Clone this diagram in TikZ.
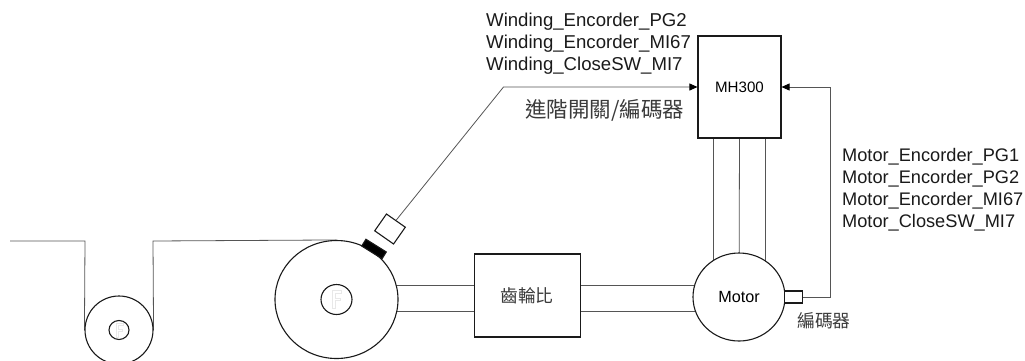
\documentclass[tikz,border=0pt]{standalone}
\usepackage{xcolor}
\usepackage{fontspec}
\setmainfont{Liberation Sans}
\newfontfamily\cjkfont{Noto Sans CJK TC}
\usetikzlibrary{positioning,arrows.meta,shapes.geometric,backgrounds}
\definecolor{ink}{HTML}{1a1a1a}
\definecolor{wire}{HTML}{555555}
\definecolor{faint}{HTML}{e8e8e8}
\definecolor{cjkink}{HTML}{3a3a3a}

\begin{document}
\begin{tikzpicture}[
  x=1pt,y=-1pt,
  font=\fontsize{18.2}{22}\selectfont,
  pulley/.style={ellipse,draw=ink,line width=1.1pt,fill=white,inner sep=0pt},
  unitbox/.style={draw=ink,line width=1.1pt,fill=white,inner sep=0pt,align=center},
  wire/.style={draw=wire,line width=0.8pt},
  arr/.style={wire,-{Triangle[length=8pt,width=7pt,color=black]}},
  lbl/.style={anchor=west,align=left,inner sep=0pt,text=ink},
  hubmark/.style={draw=faint,line width=0.5pt}]
  \useasboundingbox (0,0) rectangle (1025,360);

  % drums and boxes
  \node[pulley,minimum width=68pt,minimum height=68pt] (idler) at (119,330) {};
  \node[pulley,minimum width=20pt,minimum height=19pt] (idlerhub) at (119,330) {};
  \node[pulley,minimum width=123pt,minimum height=118pt] (drum) at (336.5,299.5) {};
  \node[pulley,minimum width=31pt,minimum height=30pt] (drumhub) at (336.5,299.5) {};
  \node[unitbox,minimum width=106pt,minimum height=83pt,text=cjkink,font=\cjkfont\fontsize{17.7}{18}\selectfont,right=75pt of drum,yshift=4pt] (gear) {齒輪比};
  \node[pulley,minimum width=92pt,minimum height=88pt,font=\fontsize{16.2}{16}\selectfont] (motor) at (739,297) {Motor};
  \node[unitbox,minimum width=83pt,minimum height=102pt,font=\fontsize{15.1}{15}\selectfont] (mh) at (739.5,87) {MH300};
  \node[unitbox,minimum width=18pt,minimum height=12pt,right=-1.5pt of motor] (motorenc) {};
  \node[unitbox,minimum width=24pt,minimum height=8pt,fill=black,rotate=-32] (pad) at (374,249) {};
  \node[unitbox,minimum width=23pt,minimum height=20.5pt,rotate=-35] (sensor) at (390,229) {};

  % texts
  \node[lbl,font=\fontsize{18.6}{22}\selectfont] (windinglbl) at (486,44) {Winding\_Encorder\_PG2\\Winding\_Encorder\_MI67\\Winding\_CloseSW\_MI7};
  \node[lbl,text=cjkink,font=\cjkfont\fontsize{21.5}{22}\selectfont] (windingname) at (525,110) {進階開關/編碼器};
  \node[lbl] (motorlbl) at (842,190) {Motor\_Encorder\_PG1\\Motor\_Encorder\_PG2\\Motor\_Encorder\_MI67\\Motor\_CloseSW\_MI7};
  \node[lbl,text=cjkink,font=\cjkfont\fontsize{17.8}{20}\selectfont] (motorname) at (797,321) {編碼器};

  \foreach \hub/\size in {idlerhub/0.8,drumhub/1}
    \draw[hubmark,shift={(\hub.center)},scale=\size] (-4,-9) -- (5,-9) -- (5,-6.5) -- (-1.5,-6.5) -- (-1.5,-1.5) -- (3.5,-1.5) -- (3.5,1) -- (-1.5,1) -- (-1.5,9) -- (-4,9) -- cycle;

  \coordinate (bend) at (503.5,87);
  \coordinate (corner) at (830,87);
  \coordinate (shaftA) at ([yshift=10pt]gear.west);
  \coordinate (shaftB) at ([yshift=-16pt]gear.west);
  \coordinate (shaftC) at ([yshift=10pt]gear.east);
  \coordinate (shaftD) at ([yshift=-16pt]gear.east);
  \coordinate (belt) at (85,241);
  \coordinate (beltstart) at (10,241);
  \coordinate (beltup) at (153,241);

  \begin{scope}[on background layer]
    \draw[wire] (beltstart) -- (belt) -- (idler.west);
    \draw[wire] (idler.east) -- (beltup) -- (drum.north);
    \draw[wire] (shaftA) -- (shaftA -| drum.center);
    \draw[wire] (shaftB) -- (shaftB -| drum.center);
    \draw[wire] (shaftC) -- (shaftC -| motor.center);
    \draw[wire] (shaftD) -- (shaftD -| motor.center);
    \draw[wire] ([xshift=-26pt]mh.south) -- ([xshift=-26pt]mh.south |- motor.center);
    \draw[wire] (mh.south) -- (motor.center);
    \draw[wire] ([xshift=26pt]mh.south) -- ([xshift=26pt]mh.south |- motor.center);
  \end{scope}
  \draw[arr] (sensor.north) -- (bend) -- (mh.west);
  \draw[arr] (motorenc.east) -| (corner) -- (mh.east);
\end{tikzpicture}
\end{document}
